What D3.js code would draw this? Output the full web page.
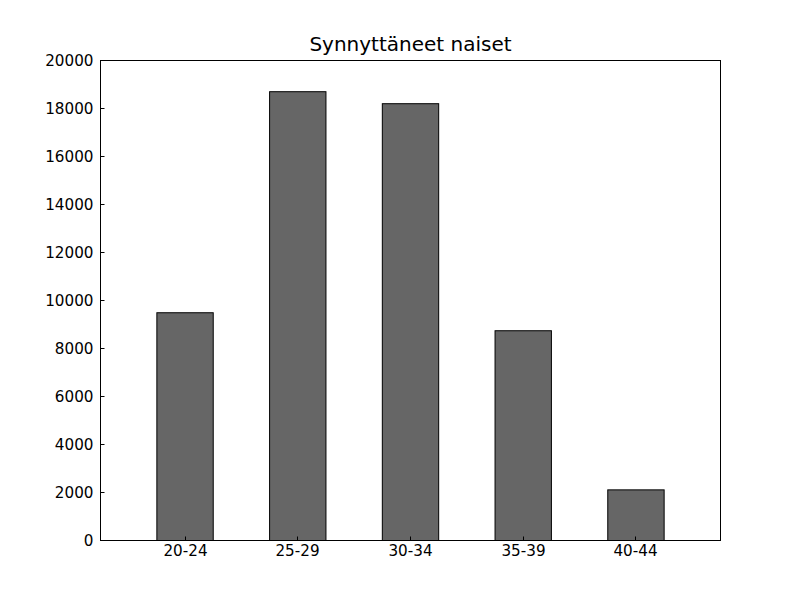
<!DOCTYPE html>
<html><head><meta charset="utf-8">
<script src="https://cdn.jsdelivr.net/npm/d3@7"></script>
<style>body{margin:0;background:#fff}svg{display:block}text{font-family:"DejaVu Sans",sans-serif;fill:#000}</style>
</head><body><svg id="c" width="800" height="600"></svg>
<script>
const title = "Synnyttäneet naiset";
const categories = ["20-24","25-29","30-34","35-39","40-44"];
const values = [9490, 18700, 18200, 8740, 2110];
const yTicks = [0,2000,4000,6000,8000,10000,12000,14000,16000,18000,20000];

const svg = d3.select("#c");
const L=100.5, R=720.5, T=60.5, B=540.5;
const x = d3.scaleLinear().domain([0,5.5]).range([L,R]);
const y = d3.scaleLinear().domain([0,20000]).range([B,T]);
svg.append("rect").attr("width",800).attr("height",600).attr("fill","#fff");

svg.selectAll("rect.bar").data(values).enter().append("rect").attr("class","bar")
  .attr("x",(d,i)=>x(i+0.5)).attr("width",(d,i)=>x(i+1)-x(i+0.5))
  .attr("y",d=>y(d)).attr("height",d=>B-y(d))
  .attr("fill","#666666").attr("stroke","#000").attr("stroke-width",1);

svg.append("rect").attr("x",L).attr("y",T).attr("width",R-L).attr("height",B-T)
  .attr("fill","none").attr("stroke","#000").attr("stroke-width",1);

const fs = 15.2;
yTicks.forEach(t=>{
  const yy = Math.round(y(t)-0.5)+0.5;
  svg.append("line").attr("x1",L).attr("x2",L+4).attr("y1",yy).attr("y2",yy).attr("stroke","#000");
  svg.append("text").attr("x",L-7).attr("y",yy).attr("dy","0.36em").attr("text-anchor","end")
    .attr("font-size",fs).text(t);
});
categories.forEach((c,i)=>{
  const xx = Math.round(x(i+0.75)-0.5)+0.5;
  svg.append("line").attr("x1",xx).attr("x2",xx).attr("y1",B).attr("y2",B-4).attr("stroke","#000");
  svg.append("text").attr("x",xx).attr("y",B+15.5).attr("text-anchor","middle")
    .attr("font-size",fs).text(c);
});
svg.append("text").attr("x",(L+R)/2).attr("y",T-10).attr("text-anchor","middle")
  .attr("font-size",20).text(title);
</script></body></html>
